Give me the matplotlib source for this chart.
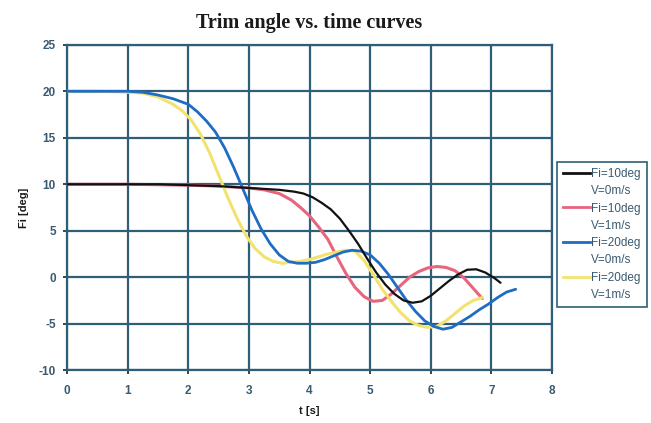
import matplotlib
matplotlib.use("Agg")
import matplotlib.pyplot as plt
from matplotlib.lines import Line2D

plt.rcParams['axes.unicode_minus'] = False

# Fi=10deg, V=0m/s
t_black = [0, 0.5, 1, 1.5, 2, 2.5, 3, 3.5, 3.75, 3.9, 4.05, 4.2, 4.35, 4.5, 4.65, 4.8,
           4.95, 5.1, 5.25, 5.4, 5.55, 5.7, 5.85, 6.0, 6.15, 6.3, 6.45, 6.6, 6.75, 6.9,
           7.05, 7.15]
fi_black = [10, 10, 10, 10, 9.9, 9.8, 9.6, 9.4, 9.2, 9.0, 8.6, 8.0, 7.3, 6.3, 5.0, 3.6,
            2.0, 0.5, -0.8, -1.8, -2.5, -2.75, -2.6, -2.0, -1.2, -0.4, 0.3, 0.8, 0.85, 0.5,
            -0.1, -0.6]

# Fi=10deg, V=1m/s
t_red = [0, 1, 2, 2.5, 2.75, 3.0, 3.25, 3.5, 3.7, 3.85, 4.0, 4.15, 4.3, 4.45, 4.6, 4.75,
         4.9, 5.05, 5.2, 5.35, 5.5, 5.65, 5.8, 5.95, 6.1, 6.25, 6.4, 6.55, 6.7, 6.85]
fi_red = [10, 10, 9.9, 9.8, 9.7, 9.6, 9.4, 9.0, 8.3, 7.5, 6.6, 5.4, 4.1, 2.2, 0.4, -1.1,
          -2.1, -2.6, -2.5, -1.8, -0.9, 0.0, 0.6, 1.0, 1.15, 1.05, 0.7, -0.1, -1.2, -2.3]

# Fi=20deg, V=0m/s
t_blue = [0, 0.5, 1.0, 1.25, 1.5, 1.75, 2.0, 2.15, 2.3, 2.45, 2.6, 2.75, 2.9, 3.05, 3.2,
          3.35, 3.5, 3.65, 3.8, 3.95, 4.1, 4.25, 4.4, 4.55, 4.7, 4.85, 5.0, 5.15, 5.3,
          5.45, 5.6, 5.75, 5.9, 6.05, 6.2, 6.35, 6.5, 6.65, 6.8, 6.95, 7.1, 7.25, 7.4]
fi_blue = [20, 20, 20, 19.9, 19.6, 19.2, 18.6, 17.8, 16.8, 15.6, 13.9, 11.8, 9.5, 7.2, 5.2,
           3.6, 2.4, 1.7, 1.5, 1.5, 1.6, 1.9, 2.3, 2.7, 2.9, 2.8, 2.4, 1.5, 0.3,
           -1.1, -2.5, -3.7, -4.7, -5.3, -5.6, -5.4, -4.8, -4.2, -3.5, -2.9, -2.2, -1.6, -1.3]

# Fi=20deg, V=1m/s
t_yellow = [0, 0.5, 1.0, 1.25, 1.5, 1.75, 1.9, 2.05, 2.2, 2.35, 2.5, 2.65, 2.8, 2.95,
            3.1, 3.25, 3.4, 3.55, 3.7, 3.85, 4.0, 4.15, 4.3, 4.45, 4.6, 4.75, 4.9, 5.05,
            5.2, 5.35, 5.5, 5.65, 5.8, 5.95, 6.1, 6.25, 6.4, 6.55, 6.7, 6.85]
fi_yellow = [20, 20, 19.9, 19.8, 19.4, 18.6, 17.9, 16.9, 15.4, 13.4, 11.0, 8.6, 6.4, 4.5,
             3.1, 2.2, 1.7, 1.5, 1.6, 1.7, 1.9, 2.2, 2.5, 2.7, 2.9, 2.8, 1.8, 0.3,
             -1.3, -2.6, -3.8, -4.7, -5.2, -5.4, -5.3, -4.7, -3.9, -3.1, -2.5, -2.2]

fi_labels = ["Fi=10deg", "Fi=10deg", "Fi=20deg", "Fi=20deg"]
v_labels = ["V=0m/s", "V=1m/s", "V=0m/s", "V=1m/s"]
x_ticks = [0, 1, 2, 3, 4, 5, 6, 7, 8]
y_ticks = [-10, -5, 0, 5, 10, 15, 20, 25]

grid_color = "#2f5f78"
text_color = "#3a5a70"

fig = plt.figure(figsize=(6.51, 4.23), dpi=100)
ax = fig.add_axes([0.103, 0.125, 0.745, 0.769])

line_kw = dict(solid_joinstyle="round", solid_capstyle="round")
l2, = ax.plot(t_red, fi_red, color="#e8657d", lw=2.2, zorder=3, **line_kw)
l4, = ax.plot(t_yellow, fi_yellow, color="#f3e26e", lw=2.2, zorder=3, **line_kw)
l3, = ax.plot(t_blue, fi_blue, color="#1f6cc4", lw=2.0, zorder=4, **line_kw)
l1, = ax.plot(t_black, fi_black, color="#111111", lw=1.6, zorder=5, **line_kw)

ax.set_xlim(0, 8)
ax.set_ylim(-10, 25)
ax.set_xticks(x_ticks)
ax.set_yticks(y_ticks)
ax.grid(True, color=grid_color, lw=1.6)
ax.set_axisbelow(True)
for sp in ax.spines.values():
    sp.set_color(grid_color)
    sp.set_linewidth(1.6)
ax.tick_params(direction="out", length=3, width=1.2, color="#222222",
               labelsize=8.5, labelcolor=text_color)
ax.tick_params(axis="y", pad=5)
ax.tick_params(axis="x", pad=8)
for lbl in ax.get_xticklabels() + ax.get_yticklabels():
    lbl.set_fontfamily("Liberation Sans")
    lbl.set_fontweight("bold")

ax.set_title("Trim angle vs. time curves", fontfamily="Liberation Serif",
             fontweight="bold", fontsize=14.5, color="#1a1a1a", pad=12)
ax.set_xlabel("t [s]", fontweight="bold", fontsize=8, fontfamily="Liberation Sans",
              color="#1a1a1a", labelpad=6)
ax.set_ylabel("Fi [deg]", fontweight="bold", fontsize=8, fontfamily="Liberation Sans",
              color="#1a1a1a", labelpad=7)

# two rows per series: line + "Fi=..", blank + "V=.."
handles, texts = [], []
for ln, fl, vl in zip([l1, l2, l3, l4], fi_labels, v_labels):
    handles += [Line2D([], [], color=ln.get_color(), lw=2.0),
                Line2D([], [], color="none")]
    texts += [fl, vl]

leg = fig.legend(handles, texts, loc="upper left",
                 bbox_to_anchor=(0.855, 0.617), bbox_transform=fig.transFigure,
                 fancybox=False, framealpha=1, handlelength=2.3,
                 handletextpad=0.15, labelspacing=0.45, borderpad=0.5, borderaxespad=0,
                 prop={"family": "Liberation Sans", "size": 8.5})
leg.get_frame().set_edgecolor(grid_color)
leg.get_frame().set_linewidth(1.2)
for txt in leg.get_texts():
    txt.set_color(text_color)

fig.savefig("out.png", dpi=100)
